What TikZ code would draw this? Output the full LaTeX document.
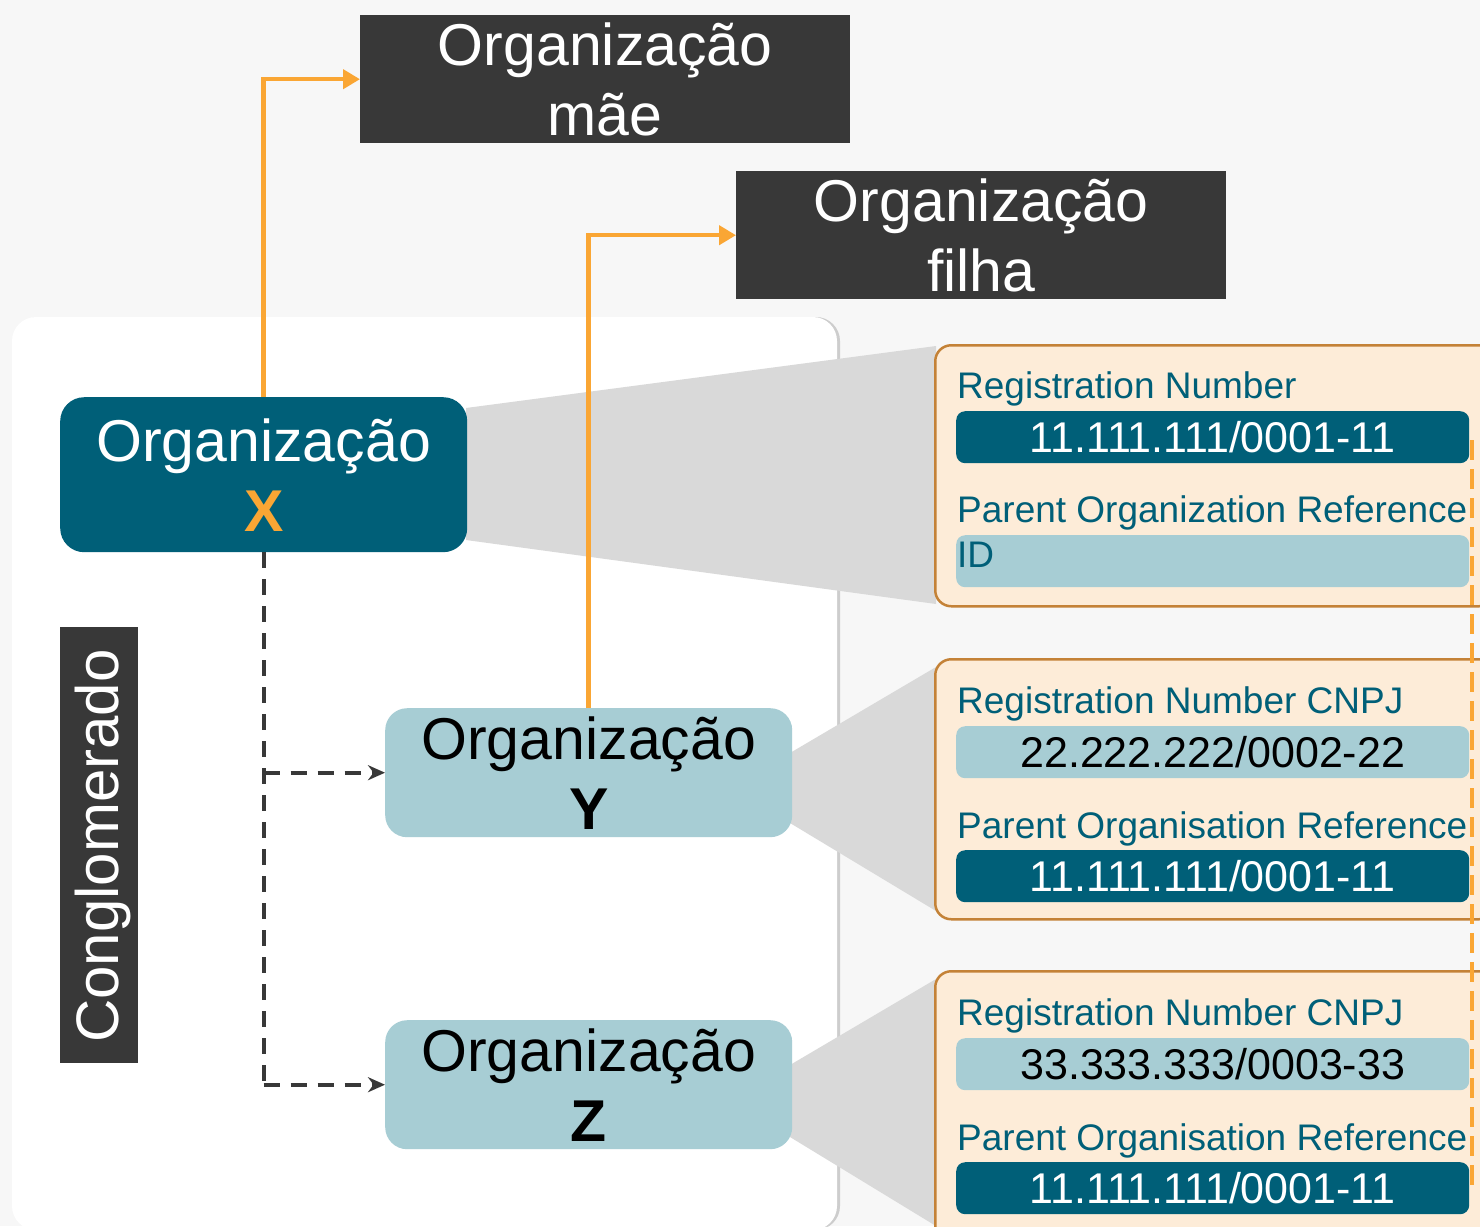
\documentclass[tikz,border=0pt]{standalone}
\usepackage{fontspec}
\setmainfont{Liberation Sans}
\usetikzlibrary{arrows.meta,shadows}
\definecolor{bgcol}{RGB}{247,247,247}
\definecolor{tealdark}{RGB}{0,95,120}
\definecolor{teallight}{RGB}{167,205,212}
\definecolor{darkbg}{RGB}{56,56,56}
\definecolor{peach}{RGB}{253,236,216}
\definecolor{peachborder}{RGB}{196,130,55}
\definecolor{orangeline}{RGB}{250,166,52}
\definecolor{wedgegray}{RGB}{217,217,217}
\definecolor{dashgray}{RGB}{56,56,56}
\begin{document}
\begin{tikzpicture}[x=1pt,y=-1pt,
  bigfont/.style={font=\fontsize{59}{70}\selectfont},
  titlebox/.style={fill=darkbg, text=white, bigfont, align=center, inner sep=0pt, anchor=north west, minimum width=490pt, minimum height=128pt},
  orgdark/.style={fill=tealdark, text=white, bigfont, align=center, inner sep=0pt, rounded corners=24pt, anchor=north west, minimum width=407pt, minimum height=155pt},
  orglight/.style={fill=teallight, text=black, bigfont, align=center, inner sep=0pt, rounded corners=22pt, anchor=north west, minimum width=407pt, minimum height=129pt},
  detailbox/.style={fill=peach, draw=peachborder, line width=2.5pt, rounded corners=16pt, anchor=north west, minimum width=560pt, inner sep=0pt},
  fielddark/.style={fill=tealdark, text=white, rounded corners=9pt, anchor=north west, minimum width=513pt, minimum height=52pt, inner sep=0pt, font=\fontsize{43}{50}\selectfont, text height=31pt, text depth=-1pt},
  fieldlight/.style={fill=teallight, text=black, rounded corners=9pt, anchor=north west, minimum width=513pt, minimum height=52pt, inner sep=0pt, font=\fontsize{43}{50}\selectfont, text height=31pt, text depth=-1pt},
  fieldlabel/.style={text=tealdark, anchor=base west, inner sep=0pt, font=\fontsize{37}{44}\selectfont},
  orline/.style={draw=orangeline, line width=4.5pt, -{Triangle[length=17pt,width=19pt]}},
  dashline/.style={draw=dashgray, line width=4pt, dash pattern=on 16pt off 11pt},
  wedge/.style={fill=wedgegray}
]
\useasboundingbox (0,0) rectangle (1480,1226);
\fill[bgcol] (0,0) rectangle (1480,1226);

% white panel
\fill[white, rounded corners=24pt, drop shadow={shadow xshift=3pt, shadow yshift=0pt, opacity=0.35, fill=gray}] (12,317) rectangle (837,1230);

% wedges
\fill[wedge] (466,408) -- (936,346) -- (936,604) -- (466,540) -- cycle;
\fill[wedge] (790,753) -- (936,667) -- (936,911) -- (790,823) -- cycle;
\fill[wedge] (790,1065) -- (936,979) -- (936,1226) -- (790,1137) -- cycle;

% title boxes
\node[titlebox] (mae) at (360,15) {Organização\\mãe};
\node[titlebox] (filha) at (736,171) {Organização\\filha};

% organisation boxes
\node[orgdark] (X) at (60,397) {Organização\\\textcolor{orangeline}{\bfseries X}};
\node[orglight] (Y) at (385,708) {Organização\\{\bfseries Y}};
\node[orglight] (Z) at (385,1020) {Organização\\{\bfseries Z}};

% conglomerado
\node[fill=darkbg, inner sep=0pt, minimum width=78pt, minimum height=436pt] (cong) at (99,845) {};
\node[text=white, font=\fontsize{60}{70}\selectfont, inner sep=0pt, rotate=90] (congtext) at (103,846) {Conglomerado};

% orange connectors
\draw[orline] (X.north) |- (mae.west);
\draw[orline] (Y.north) |- (filha.west);

% dashed connectors
\coordinate (split) at (X.south |- Z.west);
\draw[dashline] (X.south) -- (split);
\draw[dashline, -{Stealth[length=17pt,width=15pt]}] (X.south |- Y.west) -- (Y.west);
\draw[dashline, -{Stealth[length=17pt,width=15pt]}] (split) -- (Z.west);

% detail boxes
\node[detailbox, minimum height=261pt] (d1) at (934,344) {};
\node[detailbox, minimum height=260pt] (d2) at (934,658) {};
\node[detailbox, minimum height=280pt] (d3) at (934,970) {};

% box 1
\node[fieldlabel] (l1a) at (957,398) {Registration Number};
\node[fielddark] (f1a) at (956,411) {11.111.111/0001-11};
\node[fieldlabel] (l1b) at (957,522) {Parent Organization Reference};
\node[fieldlight] (f1b) at (956,535) {};
\node[fieldlabel] (l1c) at (957,567) {ID};

% box 2
\node[fieldlabel] (l2a) at (957,713) {Registration Number CNPJ};
\node[fieldlight] (f2a) at (956,726) {22.222.222/0002-22};
\node[fieldlabel] (l2b) at (957,838) {Parent Organisation Reference};
\node[fielddark] (f2b) at (956,850) {11.111.111/0001-11};

% box 3
\node[fieldlabel] (l3a) at (957,1025) {Registration Number CNPJ};
\node[fieldlight] (f3a) at (956,1038) {33.333.333/0003-33};
\node[fieldlabel] (l3b) at (957,1150) {Parent Organisation Reference};
\node[fielddark] (f3b) at (956,1162) {11.111.111/0001-11};

% orange dashed vertical
\coordinate (vtop) at (1472,440);
\coordinate (vbot) at (1472,1190);
\draw[draw=orangeline, line width=3.5pt, dash pattern=on 20pt off 9pt] (vtop) -- (vbot);
\end{tikzpicture}
\end{document}
